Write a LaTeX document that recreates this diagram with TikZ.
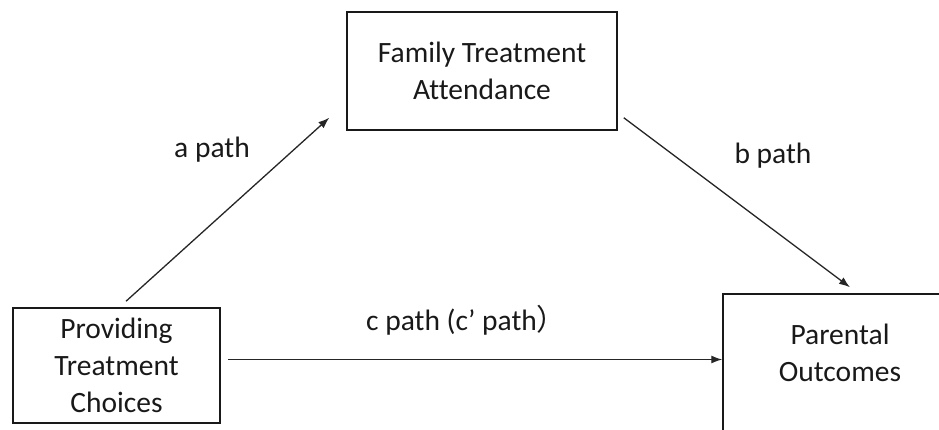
\documentclass[tikz,border=0pt]{standalone}
\usepackage{fontspec}
\setmainfont[Ligatures=NoCommon]{Carlito}
\newfontfamily\cjk{Noto Sans CJK SC}
\usetikzlibrary{arrows.meta,calc}
\begin{document}
\begin{tikzpicture}[x=1pt,y=-1pt,
  box/.style={draw=black!90,line width=1.5pt,inner sep=0pt,align=center,text=black!90},
  lbl/.style={inner sep=0pt,text=black!90},
  conn/.style={draw=black!85,line width=1.3pt,-{Latex[length=11pt,width=8pt]}},
  font=\fontsize{29.5}{37}\selectfont]
\useasboundingbox (0,0) rectangle (939,429);
\clip (0,0) rectangle (939,429);
\node[box,minimum width=270pt,minimum height=118pt] (fta) at (482,71) {Family Treatment\\Attendance};
\node[box,minimum width=207pt,minimum height=115pt] (pt) at (116.5,365.5) {Providing\\Treatment\\Choices};
\node[box,minimum width=234pt,minimum height=146pt] (po) at (840,367) {};
\node[lbl,align=center] (potext) at (840,353) {Parental\\Outcomes};
\coordinate (as) at ($(pt.north)+(9.5,-6)$);
\coordinate (ae) at ($(fta.south west)+(-17,-13)$);
\coordinate (bs) at ($(fta.south east)+(6,-13)$);
\coordinate (be) at ($(po.north)+(10,-6)$);
\coordinate (cs) at ($(pt.east)+(7,-6)$);
\draw[conn] (as) -- (ae);
\draw[conn] (bs) -- (be);
\draw[conn] (cs) -- (cs -| po.west);
\node[lbl] (alab) at (212,150) {a path};
\node[lbl] (blab) at (773,156) {b path};
\node[lbl,anchor=west] (clab) at (366,320) {c path (c’ path{\cjk ）}};
\end{tikzpicture}
\end{document}
